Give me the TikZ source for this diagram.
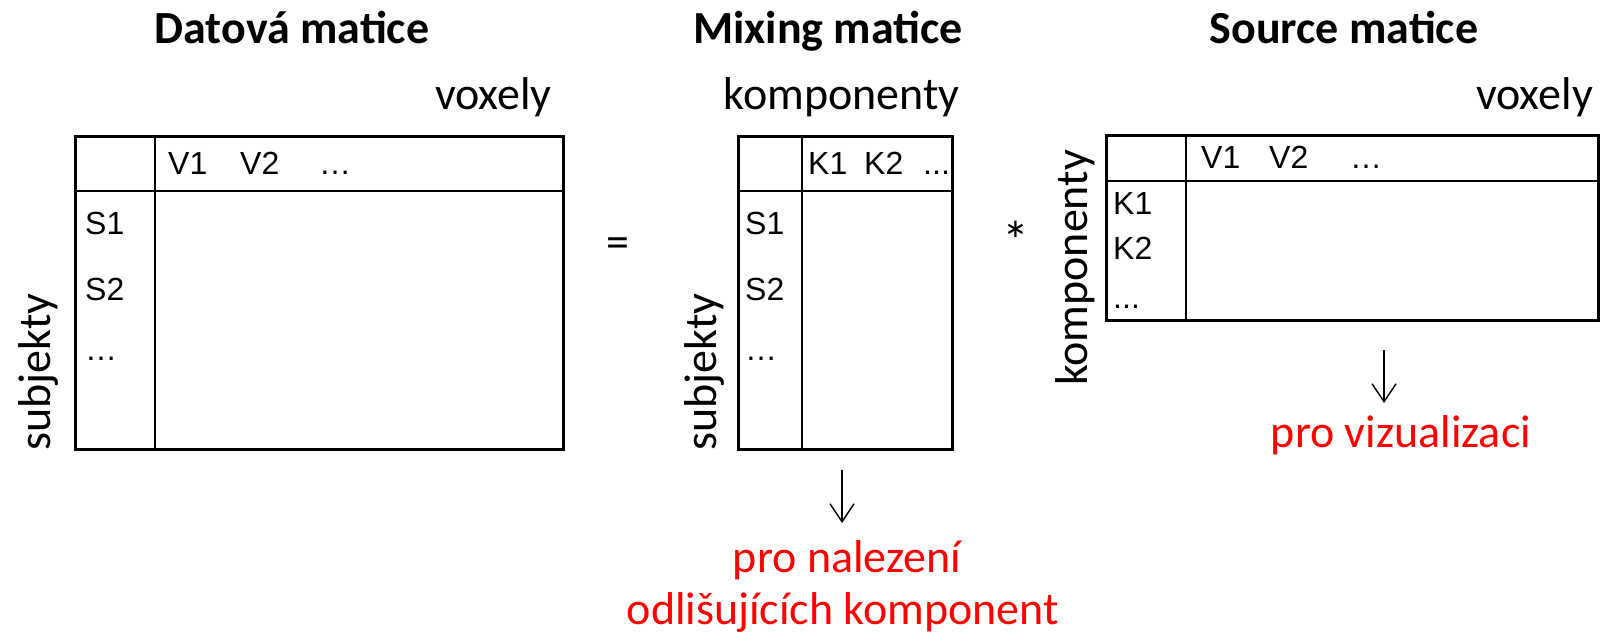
\documentclass[tikz,border=0pt]{standalone}
\usepackage{fontspec}
\setmainfont{Carlito}
\newfontfamily\arialf{Liberation Sans}
\usetikzlibrary{arrows.meta}
\definecolor{redtxt}{RGB}{255,0,0}
\begin{document}
\begin{tikzpicture}[x=1pt,y=-1pt,
  outer/.style={draw=black,line width=2.8pt,rectangle,inner sep=0pt,anchor=north west},
  inner/.style={draw=black,line width=1.7pt},
  title/.style={font=\fontsize{46}{55}\selectfont\bfseries,inner sep=0pt,anchor=base},
  lbl/.style={font=\fontsize{46}{55}\selectfont,inner sep=0pt},
  cell/.style={font=\arialf\fontsize{32}{38}\selectfont,inner sep=0pt,anchor=base west},
  note/.style={font=\fontsize{46}{56}\selectfont,text=redtxt,inner sep=0pt,anchor=base},
  arr/.style={line width=1.4pt,-{Straight Barb[length=18pt,width=24pt]}}]
\useasboundingbox (0,0) rectangle (1600,636);

% titles
\node[title] (t1) at (292,44) {Datová matice};
\node[title] (t2) at (828,44) {Mixing matice};
\node[title] (t3) at (1344,44) {Source matice};

% axis labels
\node[lbl,anchor=base east] (vox1) at (552,110) {voxely};
\node[lbl,anchor=base east] (komp1) at (960,110) {komponenty};
\node[lbl,anchor=base east] (vox2) at (1593,110) {voxely};
\node[lbl,rotate=90] (subj1) at (38,372) {subjekty};
\node[lbl,rotate=90] (subj2) at (704,372) {subjekty};
\node[lbl,rotate=90] (komp2) at (1075,268) {komponenty};

% operators
\node[lbl,anchor=base] (eq) at (618,258) {=};
\node[lbl,anchor=base,font=\fontsize{54}{60}\selectfont] (ast) at (1016,260) {*};

% data matrix
\node[outer,minimum width=488pt,minimum height=313pt] (D) at (74,135) {};
\draw[inner] (155,135) -- (155,448);
\draw[inner] (74,191) -- (562,191);
\node[cell] (dv1) at (168,175) {V1};
\node[cell] (dv2) at (240,175) {V2};
\node[cell] (dv3) at (319,175) {…};
\node[cell] (ds1) at (85,235) {S1};
\node[cell] (ds2) at (85,300) {S2};
\node[cell] (ds3) at (85,360) {…};

% mixing matrix
\node[outer,minimum width=214pt,minimum height=313pt] (M) at (737,135) {};
\draw[inner] (802,135) -- (802,448);
\draw[inner] (737,191) -- (951,191);
\node[cell] (mk1) at (808,175) {K1};
\node[cell] (mk2) at (864,175) {K2};
\node[cell] (mk3) at (923,175) {...};
\node[cell] (ms1) at (745,235) {S1};
\node[cell] (ms2) at (745,300) {S2};
\node[cell] (ms3) at (745,360) {…};

% source matrix
\node[outer,minimum width=492pt,minimum height=185pt] (S) at (1105,134) {};
\draw[inner] (1186,134) -- (1186,319);
\draw[inner] (1105,181) -- (1597,181);
\node[cell] (sv1) at (1201,169) {V1};
\node[cell] (sv2) at (1269,169) {V2};
\node[cell] (sv3) at (1350,169) {…};
\node[cell] (sk1) at (1113,215) {K1};
\node[cell] (sk2) at (1113,259) {K2};
\node[cell] (sk3) at (1113,308) {...};

% arrows and notes
\coordinate (a1s) at (842,470);
\coordinate (a1e) at (842,523);
\draw[arr] (a1s) -- (a1e);
\node[note] (n1) at (847,572) {pro nalezení};
\node[note] (n2) at (843,624) {odlišujících komponent};

\coordinate (a2s) at (1384,350);
\coordinate (a2e) at (1384,403);
\draw[arr] (a2s) -- (a2e);
\node[note] (n3) at (1401,447) {pro vizualizaci};
\end{tikzpicture}
\end{document}
